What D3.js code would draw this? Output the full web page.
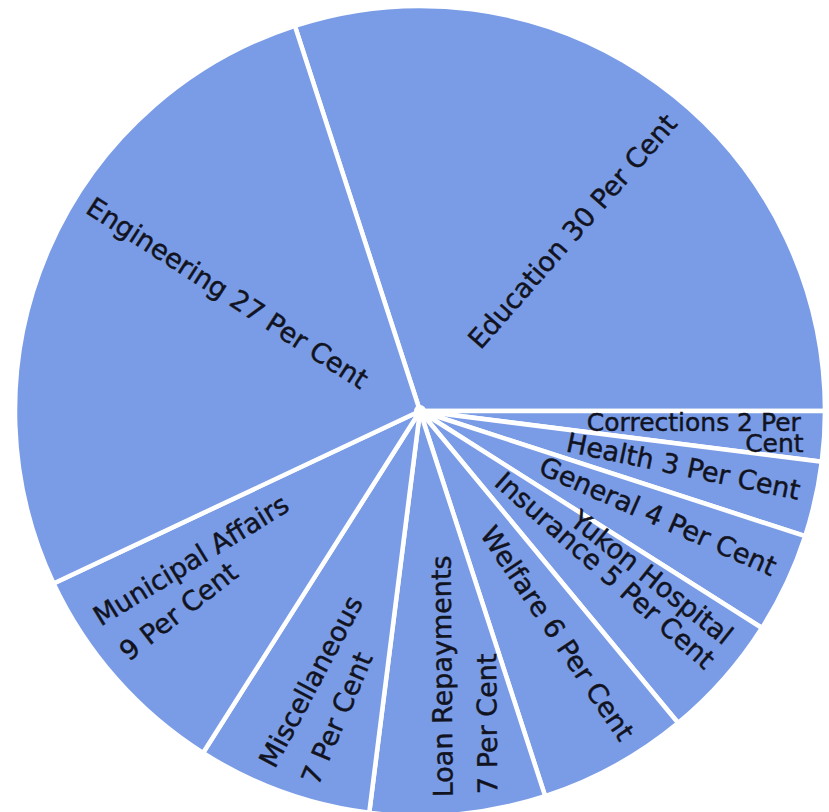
<!DOCTYPE html>
<html>
<head>
<meta charset="utf-8">
<script src="https://cdn.jsdelivr.net/npm/d3@7"></script>
<style>
html,body{margin:0;padding:0;background:#fff;}
svg{display:block;}
text{font-family:"DejaVu Sans",sans-serif;fill:#111320;stroke:#111320;stroke-width:0.45px;}
</style>
</head>
<body>
<svg id="chart" width="829" height="812"></svg>
<script>
// ---- data ----
const categories = ["Education","Corrections","Health","General","Yukon Hospital Insurance","Welfare","Loan Repayments","Miscellaneous","Municipal Affairs","Engineering"];
const percents = [30, 2, 3, 4, 5, 6, 7, 7, 9, 27];
const unitText = "Per Cent";

// ---- layout (positions / styles only) ----
const W = 829, H = 812, cx = 420, cy = 411, outerR = 405;
const startDeg = -18;
const sliceColor = "#7a9ce7";
// per label: reading direction, word index for line break, per-line angular offset from slice mid, radius, rotation
const labelLayout = [
  {dir:"out", lines:[{dphi:4.6, r:386, rot:-48.8}]},
  {dir:"out", brk:3, size:25, lines:[{dphi:-1.9, r:381, rot:0},{dphi:1.2, r:385, rot:0}]},
  {dir:"out", lines:[{dphi:-0.8, r:388}]},
  {dir:"out", lines:[{dphi:-1.4, r:388}]},
  {dir:"out", brk:2, lines:[{dphi:-5.1, r:384, rot:38.3},{dphi:-0.5, r:385, rot:41.3}]},
  {dir:"out", lines:[{dphi:-3.7, r:387, rot:56}]},
  {dir:"in", brk:2, lines:[{dphi:2.0, r:387, rot:-90.5},{dphi:-4.6, r:389, rot:-90.5}]},
  {dir:"in", brk:1, lines:[{dphi:3.7, r:386, rot:-62},{dphi:-3.2, r:388, rot:-66.9}]},
  {dir:"in", brk:2, lines:[{dphi:8.8, r:385, rot:-31.6},{dphi:2.1, r:384, rot:-37.8}]},
  {dir:"in", lines:[{dphi:8.7, r:390, rot:32.8}]}
];

const deg = Math.PI / 180;
const svg = d3.select("#chart");

const pie = d3.pie().sort(null).value(d => d)
  .startAngle(startDeg * deg).endAngle((startDeg + 360) * deg);
const arcs = pie(percents);
const arc = d3.arc().innerRadius(0).outerRadius(outerR);

const pieG = svg.append("g").attr("transform", `translate(${cx},${cy})`);
pieG.selectAll("path")
  .data(arcs)
  .join("path")
  .attr("d", arc)
  .attr("fill", sliceColor)
  .attr("stroke", "#ffffff")
  .attr("stroke-width", 4.5)
  .attr("stroke-linejoin", "round");
// white hub where the dividing lines meet
pieG.append("circle").attr("r", 6).attr("fill", "#ffffff");

const labels = svg.append("g");
arcs.forEach((a, i) => {
  const L = labelLayout[i];
  const mid = (a.startAngle + a.endAngle) / 2 / deg;
  const words = `${categories[i]} ${percents[i]} ${unitText}`.split(" ");
  const lines = L.brk ? [words.slice(0, L.brk).join(" "), words.slice(L.brk).join(" ")] : [words.join(" ")];
  lines.forEach((txt, j) => {
    const p = L.lines[j];
    const phi = mid + p.dphi;
    const x = cx + p.r * Math.sin(phi * deg);
    const y = cy - p.r * Math.cos(phi * deg);
    const rot = (p.rot != null) ? p.rot : (L.dir === "out" ? phi - 90 : phi + 90);
    labels.append("text")
      .attr("transform", `translate(${x.toFixed(2)},${y.toFixed(2)}) rotate(${rot.toFixed(2)})`)
      .attr("text-anchor", L.dir === "out" ? "end" : "start")
      .attr("dy", "0.36em")
      .attr("font-size", L.size || 27)
      .text(txt);
  });
});
</script>
</body>
</html>
